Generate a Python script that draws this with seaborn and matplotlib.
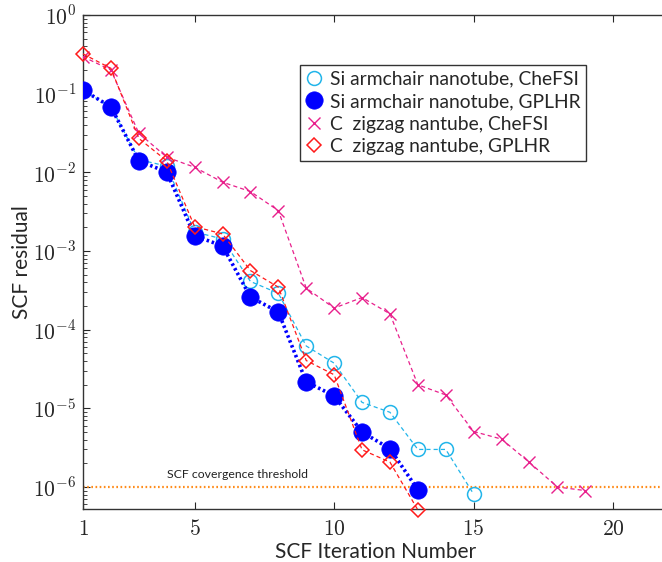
import numpy as np
import pandas as pd
import matplotlib
matplotlib.use("Agg")
import matplotlib.pyplot as plt
from matplotlib.ticker import FuncFormatter, LogLocator, NullFormatter
import seaborn as sns

# ---- data ----
iters_si_chefsi = [1, 2, 3, 4, 5, 6, 7, 8, 9, 10, 11, 12, 13, 14, 15]
res_si_chefsi = [0.11, 0.068, 0.0145, 0.012, 1.75e-3, 1.42e-3, 4.1e-4, 2.9e-4,
                 6.2e-5, 3.75e-5, 1.19e-5, 8.9e-6, 3.0e-6, 3.0e-6, 8.1e-7]

iters_si_gplhr = [1, 2, 3, 4, 5, 6, 7, 8, 9, 10, 11, 12, 13]
res_si_gplhr = [0.111, 0.068, 0.014, 0.0101, 1.56e-3, 1.16e-3, 2.6e-4, 1.68e-4,
                2.17e-5, 1.44e-5, 5.0e-6, 3.06e-6, 9.2e-7]

iters_c_chefsi = list(range(1, 20))
res_c_chefsi = [0.295, 0.2, 0.0314, 0.0156, 0.0116, 0.0075, 0.0057, 0.00326,
                3.37e-4, 1.88e-4, 2.56e-4, 1.59e-4, 1.99e-5, 1.48e-5, 5.07e-6,
                4.06e-6, 2.05e-6, 1.0e-6, 9.0e-7]

iters_c_gplhr = [1, 2, 3, 4, 5, 6, 7, 8, 9, 10, 11, 12, 13]
res_c_gplhr = [0.32, 0.21, 0.027, 0.014, 2.04e-3, 1.65e-3, 5.64e-4, 3.47e-4,
               4.05e-5, 2.67e-5, 2.97e-6, 2.07e-6, 5.1e-7]

labels = ["Si armchair nanotube, CheFSI", "Si armchair nanotube, GPLHR",
          "C  zigzag nantube, CheFSI", "C  zigzag nantube, GPLHR"]
threshold = 1e-6
xticks = [1, 5, 10, 15, 20]

# ---- style ----
sns.set_style("ticks")
plt.rcParams["font.family"] = ["Lato", "DejaVu Sans"]
plt.rcParams["mathtext.fontset"] = "cm"
plt.rcParams["axes.formatter.use_mathtext"] = True
plt.rcParams["lines.scale_dashes"] = False

fig = plt.figure(figsize=(6.62, 5.62), dpi=100)
ax = fig.add_axes([83 / 662, 53 / 562, 586 / 662, 494 / 562])

c_cyan = "#22b5ea"
c_blue = "#0000ff"
c_mag = "#e8208c"
c_red = "#ff1a1a"

thin_dash = (0, (3.0, 2.2))
blue_dot = (0, (1.8, 2.0))

common = dict(ax=ax, errorbar=None, estimator=None, sort=False)

sns.lineplot(x=iters_si_chefsi, y=res_si_chefsi, color=c_cyan,
             linestyle=thin_dash, linewidth=0.9, marker="o", markersize=10,
             markerfacecolor="none", markeredgecolor=c_cyan,
             markeredgewidth=1.1, label=labels[0], zorder=3, **common)
sns.lineplot(x=iters_c_chefsi, y=res_c_chefsi, color=c_mag,
             linestyle=thin_dash, linewidth=0.9, marker="x", markersize=8,
             markeredgecolor=c_mag, markeredgewidth=1.0,
             label=labels[2], zorder=3, **common)
sns.lineplot(x=iters_c_gplhr, y=res_c_gplhr, color=c_red,
             linestyle=thin_dash, linewidth=0.9, marker="D", markersize=7.5,
             markerfacecolor="none", markeredgecolor=c_red,
             markeredgewidth=1.1, label=labels[3], zorder=4, clip_on=False,
             **common)
sns.lineplot(x=iters_si_gplhr, y=res_si_gplhr, color=c_blue,
             linestyle=blue_dot, linewidth=2.6, marker="o", markersize=12.5,
             markerfacecolor=c_blue, markeredgecolor=c_blue,
             markeredgewidth=0.5, label=labels[1], zorder=3.5, **common)

ax.axhline(threshold, color="#ff8c1a", linestyle=(0, (1.2, 1.8)),
           linewidth=1.6, zorder=2)
ax.text(6.54, 1.45e-6, "SCF covergence threshold", fontsize=8.8, ha="center",
        va="center", color="#222222")

ax.set_yscale("log")
ax.set_xlim(1, 22)
ax.set_ylim(10 ** -6.28, 1)
ax.set_xticks(xticks)
ax.xaxis.set_major_formatter(FuncFormatter(lambda v, p: f"${int(round(v))}$"))
ax.yaxis.set_major_locator(LogLocator(base=10, numticks=20))
ax.yaxis.set_major_formatter(
    FuncFormatter(lambda v, p: f"$10^{{{int(round(np.log10(v)))}}}$"))
ax.yaxis.set_minor_locator(LogLocator(base=10, subs=np.arange(2, 10), numticks=20))
ax.yaxis.set_minor_formatter(NullFormatter())

ax.tick_params(axis="both", which="both", direction="in", top=True, right=True)
ax.tick_params(axis="both", which="major", length=5, width=0.8, labelsize=15.5)
ax.tick_params(axis="both", which="minor", length=2.8, width=0.6)
ax.tick_params(axis="x", pad=7)
ax.tick_params(axis="y", pad=5)
for s in ax.spines.values():
    s.set_color("#333333")
    s.set_linewidth(1.0)

ax.set_xlabel("SCF Iteration Number", fontsize=15)
ax.set_ylabel("SCF residual", fontsize=15)
ax.xaxis.set_label_coords(0.5, -0.066)
ax.yaxis.set_label_coords(-0.087, 0.5)

h, l = ax.get_legend_handles_labels()
hmap = dict(zip(l, h))
leg = ax.legend([hmap[x] for x in labels], labels, loc="upper left",
                bbox_to_anchor=(300 / 662, 1 - 65 / 562),
                bbox_transform=fig.transFigure, fontsize=13.85,
                frameon=True, fancybox=False, framealpha=1,
                edgecolor="#333333", handlelength=0.9, handletextpad=0.35,
                labelspacing=0.28, borderpad=0.3, borderaxespad=0)
leg.get_frame().set_linewidth(1.0)
for ln in leg.get_lines():
    ln.set_linestyle("None")

fig.savefig("out.png", dpi=100)
